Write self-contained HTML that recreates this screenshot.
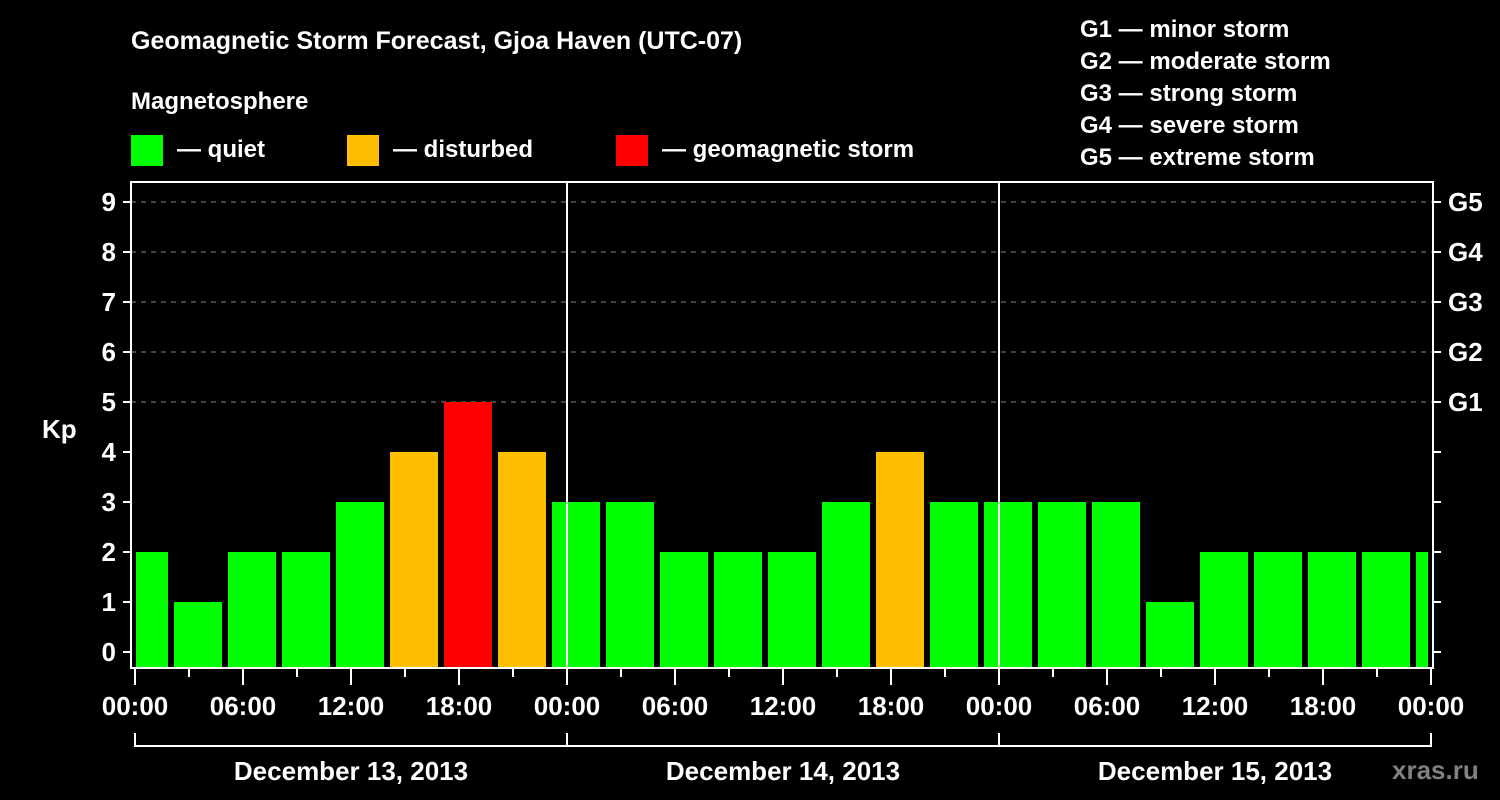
<!DOCTYPE html>
<html><head><meta charset="utf-8"><style>
body{margin:0;background:#000;width:1500px;height:800px;overflow:hidden}
svg{display:block;font-family:"Liberation Sans",Arial,sans-serif;font-weight:bold}
</style></head><body>
<svg id="c" width="1500" height="800" viewBox="0 0 1500 800">
<rect width="1500" height="800" fill="#000"/>
<text x="131" y="49" fill="#fff" font-size="25">Geomagnetic Storm Forecast, Gjoa Haven (UTC-07)</text>
<text x="131" y="109" fill="#fff" font-size="24">Magnetosphere</text>
<g><rect x="131" y="135" width="32" height="31" fill="#00ff00"/><text x="177" y="157" fill="#fff" font-size="24">— quiet</text></g>
<g><rect x="347" y="135" width="32" height="31" fill="#ffbf00"/><text x="393" y="157" fill="#fff" font-size="24">— disturbed</text></g>
<g><rect x="616" y="135" width="32" height="31" fill="#ff0000"/><text x="662" y="157" fill="#fff" font-size="24">— geomagnetic storm</text></g>
<g fill="#fff" font-size="24">
<text x="1080" y="37">G1 — minor storm</text><text x="1080" y="69">G2 — moderate storm</text><text x="1080" y="101">G3 — strong storm</text><text x="1080" y="133">G4 — severe storm</text><text x="1080" y="165">G5 — extreme storm</text>
</g>
<text x="42" y="438" fill="#fff" font-size="26">Kp</text>
<text x="1392" y="779" fill="#808080" font-size="26">xras.ru</text>
<defs><clipPath id="pc"><rect x="136" y="182" width="1292" height="486"/></clipPath></defs>
<g id="grid"></g><g id="bars" clip-path="url(#pc)"></g><g id="axes"></g>
</svg>
<script>
const kpValues=[2,1,2,2,3,4,5,4,3,3,2,2,2,3,4,3,3,3,3,1,2,2,2,2,2];
const yTicks=[0,1,2,3,4,5,6,7,8,9];
const gLabels=["G1","G2","G3","G4","G5"];
const xTickLabels=["00:00","06:00","12:00","18:00","00:00","06:00","12:00","18:00","00:00","06:00","12:00","18:00","00:00"];
const dayLabels=["December 13, 2013","December 14, 2013","December 15, 2013"];
const NS="http://www.w3.org/2000/svg";
const X0=135,PXH=18,Y0=652,PXK=50;
const xs=h=>X0+h*PXH, ys=k=>Y0-k*PXK;
function mk(t,a,p){const e=document.createElementNS(NS,t);for(const k in a)e.setAttribute(k,a[k]);p.appendChild(e);return e;}
const grid=document.getElementById('grid'),bars=document.getElementById('bars'),axes=document.getElementById('axes');
for(let k=5;k<=9;k++){const l=mk('line',{x1:131,x2:1433,y1:ys(k),y2:ys(k),stroke:'#888','stroke-dasharray':'5,5','stroke-width':1},grid);

}
kpValues.forEach((v,i)=>{const c=xs(0.5+3*i);const col=v>=5?'#ff0000':(v>=4?'#ffbf00':'#00ff00');
const r=mk('rect',{x:c-24,y:ys(v),width:48,height:668-ys(v),fill:col},bars);

});
const fr=mk('rect',{x:131,y:182,width:1302,height:486,fill:'none',stroke:'#fff','stroke-width':2},axes);


[1,2].forEach(d=>{const l=mk('line',{x1:xs(24*d),x2:xs(24*d),y1:182,y2:668,stroke:'#fff','stroke-width':2},axes);

});
yTicks.forEach(k=>{mk('line',{x1:123,x2:131,y1:ys(k),y2:ys(k),stroke:'#fff','stroke-width':2},axes);
mk('line',{x1:1433,x2:1441,y1:ys(k),y2:ys(k),stroke:'#fff','stroke-width':2},axes);
const t=mk('text',{x:116,y:ys(k)+9,fill:'#fff','font-size':26,'text-anchor':'end'},axes);t.textContent=k;

});
gLabels.forEach((g,i)=>{const t=mk('text',{x:1448,y:ys(5+i)+9,fill:'#fff','font-size':26},axes);t.textContent=g;

});
for(let h=0;h<=72;h+=3){const maj=h%6===0;mk('line',{x1:xs(h),x2:xs(h),y1:669,y2:maj?685:677,stroke:'#fff','stroke-width':2},axes);}
xTickLabels.forEach((s,i)=>{const t=mk('text',{x:xs(6*i),y:715,fill:'#fff','font-size':26,'text-anchor':'middle'},axes);t.textContent=s;

});
mk('line',{x1:xs(0),x2:xs(72),y1:746,y2:746,stroke:'#fff','stroke-width':2},axes);
for(let d=0;d<=3;d++)mk('line',{x1:xs(24*d),x2:xs(24*d),y1:733,y2:747,stroke:'#fff','stroke-width':2},axes);
dayLabels.forEach((s,i)=>{const t=mk('text',{x:xs(24*i+12),y:780,fill:'#fff','font-size':26,'text-anchor':'middle'},axes);t.textContent=s;

});
</script>
</body></html>
